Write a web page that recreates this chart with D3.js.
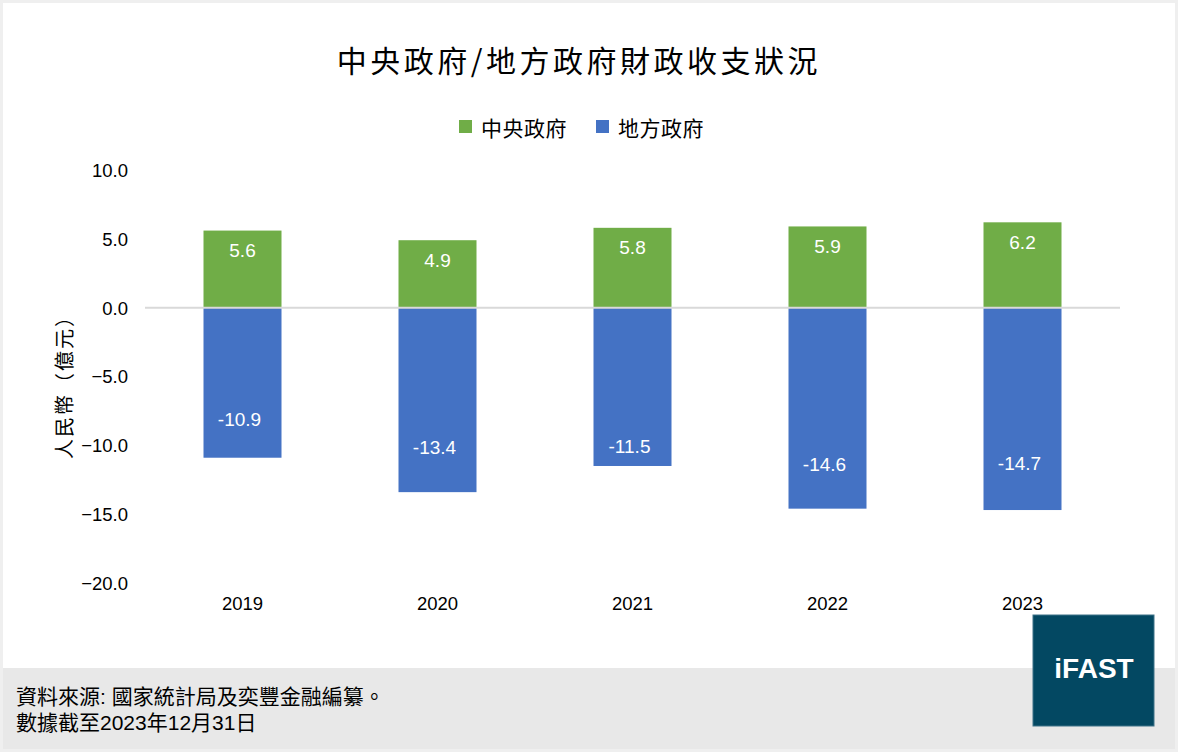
<!DOCTYPE html>
<html>
<head>
<meta charset="utf-8">
<script src="https://cdn.jsdelivr.net/npm/d3@7"></script>
<style>
  html, body { margin: 0; padding: 0; background: #efefef; }
  svg { display: block; }
</style>
</head>
<body>
<div id="chart"></div>
<script>
var years = ["2019", "2020", "2021", "2022", "2023"];
var central = [5.6, 4.9, 5.8, 5.9, 6.2];
var local = [-10.9, -13.4, -11.5, -14.6, -14.7];
var yTicks = [10, 5, 0, -5, -10, -15, -20];
var seriesNames = ["中央政府", "地方政府"];

var W = 1178, H = 752;
var GREEN = "#70ad47", BLUE = "#4472c4";
var LATIN = "'Liberation Sans', Arial, sans-serif";
var CJK = "'Noto Sans CJK TC', 'Noto Sans CJK SC', sans-serif";
var MIXED = "'Liberation Sans', 'Noto Sans CJK TC', sans-serif";

// labels on the blue bars were nudged up by hand in the original
var localLabelLift = [38, 45, 19, 44, 47];

var svg = d3.select("#chart")
			.append("svg")
			.attr("width", W)
			.attr("height", H);

// frame + footer band
svg.append("rect")
	.attr("x", 3).attr("y", 3)
	.attr("width", W - 6).attr("height", H - 6)
	.style("fill", "#ffffff");
svg.append("rect")
	.attr("x", 3).attr("y", 668)
	.attr("width", W - 6).attr("height", H - 671)
	.style("fill", "#e8e8e8");

var x = d3.scaleBand()
			.domain(years)
			.range([145, 1120])
			.paddingInner(0.6)
			.paddingOuter(0.3);

var y = d3.scaleLinear()
			.domain([-20, 10])
			.range([583, 170]);

// title
svg.append("text")
	.attr("x", 579).attr("y", 59)
	.attr("text-anchor", "middle")
	.attr("dominant-baseline", "central")
	.style("font-family", CJK)
	.style("font-size", "30px")
	.style("letter-spacing", "3.5px")
	.style("fill", "#000")
	.text("中央政府/地方政府財政收支狀況");

// legend
var legend = svg.append("g");
var legendX = [459, 596];
legend.selectAll("rect")
	.data(seriesNames)
	.enter().append("rect")
	.attr("x", function(d, i) { return legendX[i]; })
	.attr("y", 120)
	.attr("width", 13).attr("height", 13)
	.style("fill", function(d, i) { return i == 0 ? GREEN : BLUE; });
legend.selectAll("text")
	.data(seriesNames)
	.enter().append("text")
	.attr("x", function(d, i) { return legendX[i] + 22; })
	.attr("y", 127)
	.attr("dominant-baseline", "central")
	.style("font-family", CJK)
	.style("font-size", "21px")
	.style("letter-spacing", "0.5px")
	.style("fill", "#000")
	.text(function(d) { return d; });

// y axis (labels only)
var yAxis = d3.axisLeft(y)
			.tickValues(yTicks)
			.tickSize(0)
			.tickPadding(0)
			.tickFormat(d3.format(".1f"));
var gy = svg.append("g")
			.attr("transform", "translate(128,0)")
			.call(yAxis);
gy.select(".domain").remove();
gy.selectAll("text")
	.attr("dy", "0.35em")
	.style("font-family", LATIN)
	.style("font-size", "18.5px")
	.style("fill", "#000");

// x axis (labels only)
var xAxis = d3.axisBottom(x).tickSize(0).tickPadding(0);
var gx = svg.append("g")
			.attr("transform", "translate(0,604)")
			.call(xAxis);
gx.select(".domain").remove();
gx.selectAll("text")
	.attr("dy", "0.35em")
	.style("font-family", LATIN)
	.style("font-size", "18.5px")
	.style("fill", "#000");

// y axis title
svg.append("text")
	.attr("transform", "translate(63,382) rotate(-90)")
	.attr("text-anchor", "middle")
	.attr("dominant-baseline", "central")
	.style("font-family", CJK)
	.style("font-size", "20px")
	.style("letter-spacing", "2px")
	.style("fill", "#000")
	.text("人民幣（億元）");

// bars
svg.selectAll(".barCentral")
	.data(central)
	.enter().append("rect")
	.attr("class", "barCentral")
	.attr("x", function(d, i) { return x(years[i]); })
	.attr("y", function(d) { return y(d); })
	.attr("width", x.bandwidth())
	.attr("height", function(d) { return y(0) - y(d); })
	.style("fill", GREEN);

svg.selectAll(".barLocal")
	.data(local)
	.enter().append("rect")
	.attr("class", "barLocal")
	.attr("x", function(d, i) { return x(years[i]); })
	.attr("y", y(0))
	.attr("width", x.bandwidth())
	.attr("height", function(d) { return y(d) - y(0); })
	.style("fill", BLUE);

// zero line
svg.append("line")
	.attr("x1", 145).attr("x2", 1120)
	.attr("y1", y(0)).attr("y2", y(0))
	.style("stroke", "#d9d9d9")
	.style("stroke-width", 2);

// data labels
svg.selectAll(".lblCentral")
	.data(central)
	.enter().append("text")
	.attr("class", "lblCentral")
	.attr("x", function(d, i) { return x(years[i]) + x.bandwidth() / 2; })
	.attr("y", function(d) { return y(d) + 20; })
	.attr("text-anchor", "middle")
	.attr("dominant-baseline", "central")
	.style("font-family", LATIN)
	.style("font-size", "19px")
	.style("fill", "#fff")
	.text(function(d) { return d.toFixed(1); });

svg.selectAll(".lblLocal")
	.data(local)
	.enter().append("text")
	.attr("class", "lblLocal")
	.attr("x", function(d, i) { return x(years[i]) + x.bandwidth() / 2 - 3; })
	.attr("y", function(d, i) { return y(d) - localLabelLift[i]; })
	.attr("text-anchor", "middle")
	.attr("dominant-baseline", "central")
	.style("font-family", LATIN)
	.style("font-size", "19px")
	.style("fill", "#fff")
	.text(function(d) { return d.toFixed(1); });

// source note
var notes = ["資料來源: 國家統計局及奕豐金融編纂。", "數據截至2023年12月31日"];
svg.selectAll(".note")
	.data(notes)
	.enter().append("text")
	.attr("class", "note")
	.attr("x", 16)
	.attr("y", function(d, i) { return 696 + i * 26; })
	.attr("dominant-baseline", "central")
	.style("font-family", MIXED)
	.style("font-size", "21px")
	.style("fill", "#000")
	.text(function(d) { return d; });

// logo
svg.append("rect")
	.attr("x", 1033).attr("y", 615)
	.attr("width", 121).attr("height", 111)
	.style("fill", "#034862")
	.style("stroke", "#3f7388")
	.style("stroke-width", 1);
svg.append("text")
	.attr("x", 1094).attr("y", 678)
	.attr("text-anchor", "middle")
	.style("font-family", LATIN)
	.style("font-weight", "bold")
	.style("font-size", "28px")
	.style("fill", "#fff")
	.text("iFAST");
</script>
</body>
</html>
